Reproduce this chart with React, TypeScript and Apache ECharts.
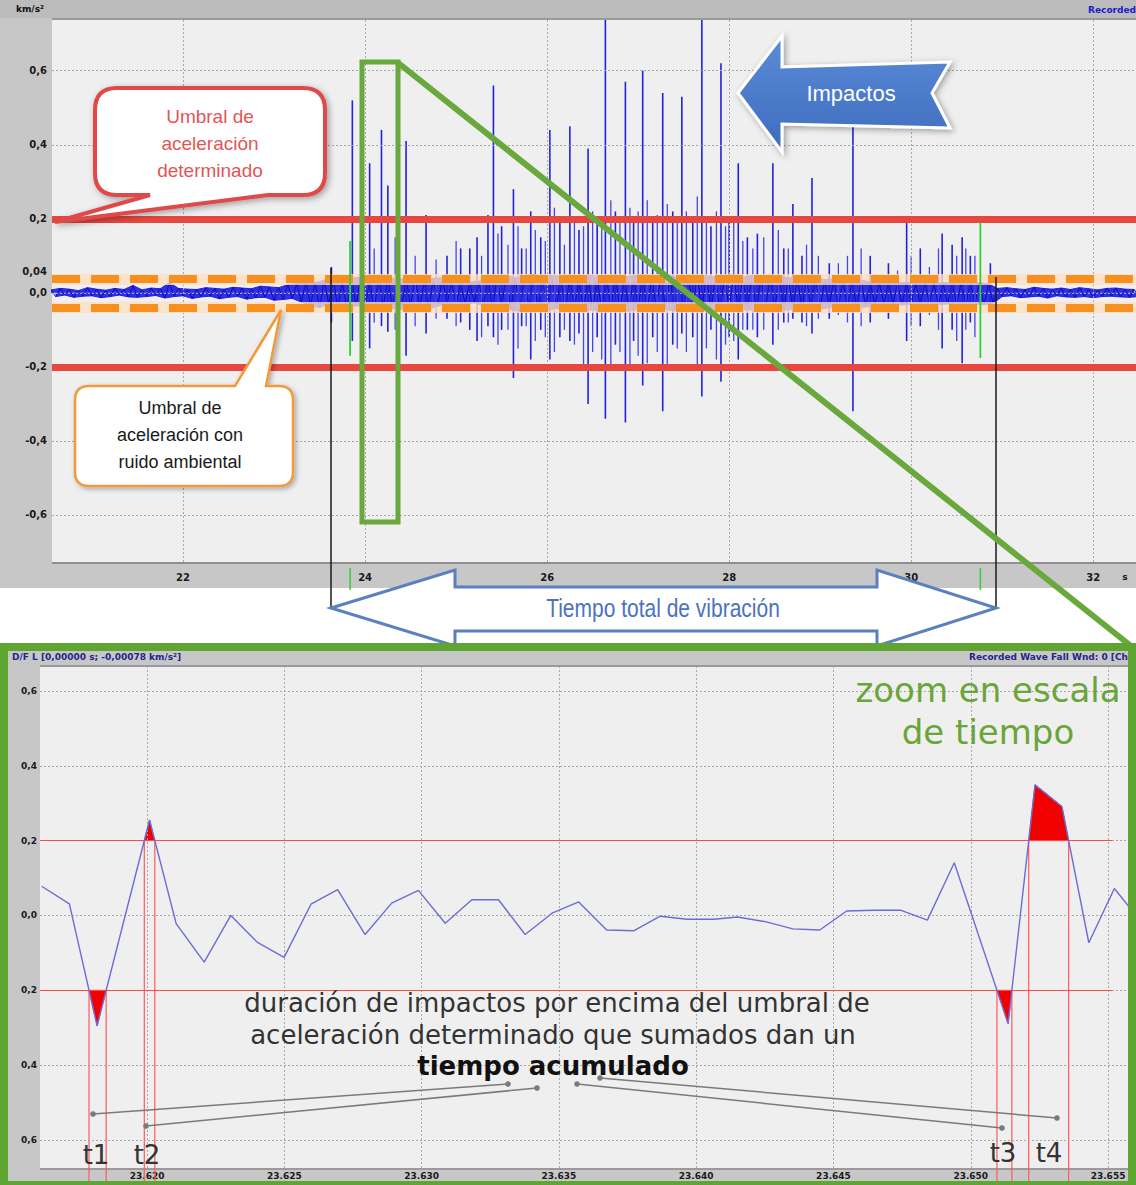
import React, { useEffect, useRef } from 'react';
import * as echarts from 'echarts';

// ---------- overview chart data ----------
const overviewXTicks = [22, 24, 26, 28, 30, 32];
const overviewYTicks = [-0.6, -0.4, -0.2, 0, 0.2, 0.4, 0.6];
const accelThreshold = 0.2;
const noiseBandUpper = 0.038;
const noiseBandLower = -0.04;

// ambient noise record, one sample every 0.05 s from 20.55 s
const noiseStart = 20.55;
const noiseStep = 0.05;
const noiseValues = [
  0.008, -0.010, 0.012, -0.006, 0.010, -0.012, 0.006, -0.009, 0.014, -0.008,
  0.010, -0.013, 0.007, -0.010, 0.012, -0.006, 0.009, -0.011, 0.020, -0.012,
  0.008, -0.010, 0.013, -0.007, 0.011, -0.014, 0.028, -0.010, 0.012, -0.008,
  0.010, -0.015, 0.009, -0.011, 0.014, -0.009, 0.012, -0.016, 0.010, -0.012,
  0.015, -0.010, 0.013, -0.017, 0.011, -0.013, 0.018, -0.012, 0.016, -0.020,
  0.014, -0.018, 0.022, -0.015, 0.025,
  -0.025, 0.030, -0.035, 0.028, -0.040, 0.034, -0.030,
  0.038, -0.042, 0.030, -0.045, 0.040, -0.035, 0.042, -0.040, 0.035, -0.046,
  0.040, -0.038, 0.044, -0.042, 0.036, -0.045, 0.040, -0.037, 0.043, -0.041,
  0.034, -0.044, 0.039, -0.036, 0.041,
  -0.030, 0.028, -0.032, 0.025, -0.030, 0.030, -0.027, 0.032, -0.035,
  0.042, -0.048, 0.045, -0.040, 0.048, -0.046, 0.040, -0.050, 0.046, -0.044,
  0.050, -0.047, 0.043, -0.049, 0.047, -0.042, 0.045, -0.050, 0.048, -0.045,
  0.041, -0.048, 0.049, -0.046, 0.044, -0.051, 0.046, -0.043, 0.048, -0.047,
  0.043, -0.050, 0.047, -0.044, 0.050, -0.048, 0.042, -0.046, 0.049, -0.045,
  0.046, -0.049, 0.044, -0.047, 0.048, -0.043, 0.045, -0.050, 0.047, -0.046,
  0.043, -0.048, 0.046, -0.044, 0.049, -0.047, 0.042, -0.045, 0.047, -0.049,
  0.044, -0.046, 0.048, -0.043, 0.045, -0.047, 0.040, -0.044, 0.042, -0.046,
  0.038, -0.042, 0.040, -0.044, 0.036, -0.040, 0.038, -0.041, 0.035, -0.039,
  0.037, -0.040, 0.034, -0.038,
  0.030, -0.034, 0.028, -0.032, 0.030, -0.030, 0.026, -0.033, 0.029, -0.031,
  0.027, -0.034, 0.030, -0.029, 0.025, -0.032, 0.028, -0.030, 0.026, -0.031,
  0.029, -0.033, 0.027, -0.030, 0.028, -0.032, 0.024, -0.028,
  0.012, -0.010, 0.014, -0.008, 0.011, -0.013, 0.009, -0.011, 0.015, -0.009,
  0.012, -0.014, 0.010, -0.008, 0.013, -0.011, 0.009, -0.012, 0.014, -0.010,
  0.011, -0.013, 0.008, -0.010, 0.012, -0.009, 0.013, -0.011, 0.010, -0.012,
  0.009, -0.010,
];

// main impacts: time (s), positive peak, negative peak (km/s²)
const impactTimes = [
  23.63, 23.86, 24.05, 24.18, 24.25, 24.45, 24.67, 24.9, 25.05, 25.15,
  25.23, 25.35, 25.41, 25.5, 25.63, 25.72, 25.82, 25.93, 26.03, 26.14,
  26.25, 26.35, 26.45, 26.55, 26.64, 26.75, 26.86, 26.95, 27.05, 27.16,
  27.27, 27.38, 27.48, 27.6, 27.7, 27.8, 27.91, 28.0, 28.1, 28.2,
  28.31, 28.48, 28.6, 28.7, 28.8, 28.91, 29.1, 29.36, 29.55, 29.75,
  29.95, 30.1, 30.34, 30.45, 30.56, 30.65, 30.87,
];
const impactPeaks = [
  0.07, 0.52, 0.35, 0.44, 0.29, 0.41, 0.21, 0.10, 0.12, 0.12,
  0.15, 0.21, 0.56, 0.18, 0.28, 0.12, 0.22, 0.15, 0.44, 0.20,
  0.45, 0.17, 0.39, 0.20, 0.74, 0.22, 0.57, 0.20, 0.60, 0.20,
  0.54, 0.22, 0.53, 0.20, 0.74, 0.18, 0.62, 0.20, 0.35, 0.15,
  0.16, 0.35, 0.12, 0.24, 0.10, 0.31, 0.08, 0.46, 0.10, 0.08,
  0.19, 0.12, 0.16, 0.13, 0.15, 0.10, 0.08,
];
const impactTroughs = [
  -0.08, -0.13, -0.15, -0.09, -0.105, -0.17, -0.11, -0.07, -0.08, -0.10,
  -0.13, -0.09, -0.12, -0.10, -0.23, -0.09, -0.18, -0.10, -0.18, -0.12,
  -0.13, -0.11, -0.30, -0.12, -0.34, -0.14, -0.35, -0.13, -0.25, -0.12,
  -0.32, -0.14, -0.11, -0.12, -0.28, -0.10, -0.24, -0.12, -0.18, -0.10,
  -0.12, -0.14, -0.08, -0.07, -0.08, -0.11, -0.07, -0.32, -0.08, -0.07,
  -0.13, -0.09, -0.15, -0.10, -0.19, -0.08, -0.03,
];
// secondary (smaller) impacts
const minorTimes = [
  24.1, 24.33, 24.55, 24.78, 25.0, 25.28, 25.46, 25.57, 25.68, 25.77,
  25.87, 25.98, 26.08, 26.19, 26.3, 26.4, 26.5, 26.6, 26.7, 26.8,
  26.91, 27.0, 27.1, 27.21, 27.32, 27.43, 27.53, 27.65, 27.75, 27.86,
  27.96, 28.05, 28.15, 28.26, 28.38, 28.54, 28.65, 28.85, 28.98, 29.2,
  29.3, 29.45, 29.85, 30.0, 30.2, 30.3, 30.5, 30.6, 30.7,
];
const minorPeaks = [
  0.12, 0.15, 0.10, 0.09, 0.14, 0.10, 0.16, 0.13, 0.18, 0.12,
  0.17, 0.14, 0.23, 0.13, 0.20, 0.18, 0.22, 0.20, 0.25, 0.20,
  0.23, 0.22, 0.25, 0.21, 0.24, 0.20, 0.22, 0.26, 0.20, 0.22,
  0.18, 0.20, 0.14, 0.12, 0.15, 0.17, 0.12, 0.13, 0.10, 0.08,
  0.10, 0.12, 0.06, 0.10, 0.07, 0.12, 0.10, 0.12, 0.10,
];
const minorTroughs = [
  -0.08, -0.10, -0.09, -0.07, -0.09, -0.12, -0.14, -0.10, -0.15, -0.09,
  -0.13, -0.12, -0.16, -0.10, -0.14, -0.20, -0.16, -0.18, -0.20, -0.16,
  -0.20, -0.17, -0.19, -0.16, -0.20, -0.15, -0.16, -0.20, -0.15, -0.18,
  -0.14, -0.13, -0.10, -0.10, -0.10, -0.10, -0.08, -0.09, -0.07, -0.06,
  -0.08, -0.09, -0.05, -0.09, -0.06, -0.10, -0.13, -0.10, -0.12,
];
// trigger markers (green)
const markerTimes = [23.835, 30.76];
const markerPeaks = [0.14, 0.19];
const markerTroughs = [-0.17, -0.176];

// ---------- zoomed chart data ----------
const zoomXTicks = [23.62, 23.625, 23.63, 23.635, 23.64, 23.645, 23.65, 23.655];
const zoomYTicks = [-0.6, -0.4, -0.2, 0, 0.2, 0.4, 0.6];
const zoomTimes = [
  23.61616, 23.61717, 23.61818, 23.62009, 23.62106, 23.62208, 23.62305, 23.62402,
  23.62499, 23.62597, 23.62694, 23.62794, 23.62891, 23.62988, 23.63086, 23.63183,
  23.6328, 23.63377, 23.63475, 23.63572, 23.63674, 23.63772, 23.63869, 23.63967,
  23.64065, 23.6415, 23.64255, 23.64352, 23.6445, 23.64548, 23.64646, 23.64744,
  23.64842, 23.6494, 23.65136, 23.65234, 23.65332, 23.6543, 23.65523, 23.65597,
];
const zoomValues = [
  0.078, 0.031, -0.295, 0.255, -0.022, -0.125, 0.0, -0.072,
  -0.112, 0.03, 0.069, -0.051, 0.033, 0.067, -0.021, 0.042,
  0.042, -0.051, 0.006, 0.036, -0.039, -0.041, -0.002, -0.01,
  -0.01, -0.004, -0.017, -0.036, -0.039, 0.012, 0.014, 0.014,
  -0.0125, 0.141, -0.289, 0.349, 0.291, -0.073, 0.072, 0.005,
];

// ---------- helpers ----------
const TOP_X_MIN = 20.56, TOP_X_MAX = 32.47, TOP_Y_MIN = -0.727, TOP_Y_MAX = 0.737;
const ZX_MIN = 23.6161, ZX_MAX = 23.6558, ZY_MIN = -0.675, ZY_MAX = 0.664;

function commaFmt(v: number) {
  const x = Math.abs(v) < 1e-9 ? 0 : v;
  return x.toFixed(1).replace('.', ',');
}

// excursions beyond the threshold -> polygons and crossing times
function excursions(ts: number[], vs: number[], th: number) {
  const polys: { sign: number; pts: number[][] }[] = [];
  const crossings: { t: number; level: number }[] = [];
  for (const sign of [1, -1]) {
    const lvl = sign * th;
    let cur: number[][] | null = null;
    for (let i = 0; i < ts.length; i++) {
      const above = sign * vs[i] > th;
      if (i > 0) {
        const prevAbove = sign * vs[i - 1] > th;
        if (above !== prevAbove) {
          const tc = ts[i - 1] + ((lvl - vs[i - 1]) / (vs[i] - vs[i - 1])) * (ts[i] - ts[i - 1]);
          crossings.push({ t: tc, level: lvl });
          if (above) {
            cur = [[tc, lvl]];
          } else if (cur) {
            cur.push([tc, lvl]);
            polys.push({ sign, pts: cur });
            cur = null;
          }
        }
      }
      if (above && cur) cur.push([ts[i], vs[i]]);
    }
  }
  return { polys, crossings };
}

const redCalloutPath =
  'M117 88 L303 88 Q325 88 325 110 L325 173 Q325 195 303 195 L268 195 L55 222 L150 195 L117 195 Q95 195 95 173 L95 110 Q95 88 117 88 Z';
const orangeCalloutPath =
  'M89 386 L235 386 L281 310 L266 386 L279 386 Q293 386 293 400 L293 472 Q293 486 279 486 L89 486 Q75 486 75 472 L75 400 Q75 386 89 386 Z';

echarts.graphic.registerShape('redCallout', echarts.graphic.extendPath(redCalloutPath, {}));
echarts.graphic.registerShape('orangeCallout', echarts.graphic.extendPath(orangeCalloutPath, {}));

function spikeRenderer(color: string, width: number) {
  return (params: any, api: any) => {
    const t = api.value(0);
    const a = api.coord([t, api.value(1)]);
    const b = api.coord([t, api.value(2)]);
    return {
      type: 'line', shape: { x1: a[0], y1: a[1], x2: b[0], y2: b[1] },
      style: { stroke: color, lineWidth: width },
    };
  };
}

export default function App() {
  const ref = useRef<HTMLDivElement>(null);

  useEffect(() => {
    if (!ref.current) return;
    const chart = echarts.init(ref.current, null, { renderer: 'svg' });

    const noiseData = noiseValues.map((v, i) => [noiseStart + i * noiseStep, v]);
    const noisePos = noiseData.filter((p) => p[1] > 0);
    const noiseNeg = noiseData.filter((p) => p[1] < 0);
    const impactData = impactTimes.map((t, i) => [t, impactPeaks[i], impactTroughs[i]]);
    const minorData = minorTimes.map((t, i) => [t, minorPeaks[i], minorTroughs[i]]);
    const markerData = markerTimes.map((t, i) => [t, markerPeaks[i], markerTroughs[i]]);
    const zoomData = zoomTimes.map((t, i) => [t, zoomValues[i]]);
    const { polys, crossings } = excursions(zoomTimes, zoomValues, accelThreshold);

    const gridLineStyle = { color: '#a8a8a8', type: [2, 2] as any, width: 1 };
    const axisLabelBase = { color: '#1a1a1a', fontWeight: 'bold' as const, fontFamily: 'DejaVu Sans' };
    const mlBase = { silent: true, symbol: 'none', precision: 6, label: { show: false } };

    const option: any = {
      animation: false,
      textStyle: { fontFamily: 'DejaVu Sans' },
      grid: [
        { left: 52, top: 20, width: 1084, height: 542 },
        { left: 40, top: 667, width: 1090, height: 501 },
      ],
      xAxis: [
        {
          type: 'value', gridIndex: 0, min: TOP_X_MIN, max: TOP_X_MAX,
          axisLine: { show: false }, axisTick: { show: false }, splitLine: { show: false },
          axisLabel: { ...axisLabelBase, fontSize: 10, margin: 10, customValues: overviewXTicks, formatter: (v: number) => String(Math.round(v)) },
        },
        {
          type: 'value', gridIndex: 1, min: ZX_MIN, max: ZX_MAX,
          axisLine: { show: false }, axisTick: { show: false }, splitLine: { show: false },
          axisLabel: { ...axisLabelBase, fontSize: 9, margin: 3, customValues: zoomXTicks, formatter: (v: number) => v.toFixed(3) },
        },
      ],
      yAxis: [
        {
          type: 'value', gridIndex: 0, min: TOP_Y_MIN, max: TOP_Y_MAX,
          axisLine: { show: false }, axisTick: { show: false }, splitLine: { show: false },
          axisLabel: { ...axisLabelBase, fontSize: 10, margin: 5, customValues: overviewYTicks, formatter: commaFmt },
        },
        {
          type: 'value', gridIndex: 1, min: ZY_MIN, max: ZY_MAX,
          axisLine: { show: false }, axisTick: { show: false }, splitLine: { show: false },
          axisLabel: { ...axisLabelBase, fontSize: 9, margin: 3, customValues: zoomYTicks, formatter: (v: number) => commaFmt(Math.abs(v)) },
        },
      ],
      series: [
        // grid lines, overview
        {
          type: 'line', xAxisIndex: 0, yAxisIndex: 0, data: [], silent: true, z: 1,
          markLine: {
            ...mlBase, lineStyle: gridLineStyle,
            data: [
              ...overviewXTicks.map((x) => ({ xAxis: x })),
              ...overviewYTicks.map((y) => ({ yAxis: y })),
            ],
          },
        },
        // grid lines, zoom
        {
          type: 'line', xAxisIndex: 1, yAxisIndex: 1, data: [], silent: true, z: 1,
          markLine: {
            ...mlBase, lineStyle: gridLineStyle,
            data: [
              ...zoomXTicks.map((x) => ({ xAxis: x })),
              ...zoomYTicks.map((y) => ({ yAxis: y })),
            ],
          },
        },
        // ambient noise threshold: soft underlay (under the noise)
        {
          type: 'line', xAxisIndex: 0, yAxisIndex: 0, data: [], z: 1, silent: true,
          markLine: {
            ...mlBase,
            lineStyle: { color: 'rgba(255,222,190,0.8)', width: 11, type: 'solid' },
            data: [{ yAxis: noiseBandUpper }, { yAxis: noiseBandLower }],
          },
        },
        // ambient noise envelope (filled)
        {
          type: 'line', xAxisIndex: 0, yAxisIndex: 0, data: noisePos, showSymbol: false, z: 2, silent: true,
          lineStyle: { color: '#1e1ee8', width: 1 }, areaStyle: { color: '#2424e4', opacity: 0.95 },
        },
        {
          type: 'line', xAxisIndex: 0, yAxisIndex: 0, data: noiseNeg, showSymbol: false, z: 2, silent: true,
          lineStyle: { color: '#1e1ee8', width: 1 }, areaStyle: { color: '#2424e4', opacity: 0.95 },
        },
        // ambient noise trace
        {
          type: 'line', xAxisIndex: 0, yAxisIndex: 0, data: noiseData, showSymbol: false, z: 3,
          lineStyle: { color: '#0c0cb8', width: 1 }, silent: true,
        },
        // secondary impacts
        {
          type: 'custom', xAxisIndex: 0, yAxisIndex: 0, data: minorData, z: 4, clip: true, silent: true,
          encode: { x: 0, y: [1, 2] },
          renderItem: spikeRenderer('#4444ee', 1.3),
        },
        // main impacts
        {
          type: 'custom', xAxisIndex: 0, yAxisIndex: 0, data: impactData, z: 4, clip: true, silent: true,
          encode: { x: 0, y: [1, 2] },
          renderItem: spikeRenderer('#2222d8', 1.6),
        },
        // trigger markers
        {
          type: 'custom', xAxisIndex: 0, yAxisIndex: 0, data: markerData, z: 5, clip: false, silent: true,
          encode: { x: 0, y: [1, 2] },
          renderItem: (params: any, api: any) => {
            const t = api.value(0);
            const a = api.coord([t, api.value(1)]);
            const b = api.coord([t, api.value(2)]);
            const base = api.coord([t, TOP_Y_MIN])[1];
            return {
              type: 'group',
              children: [
                { type: 'line', shape: { x1: a[0], y1: a[1], x2: b[0], y2: b[1] }, style: { stroke: '#2fd22f', lineWidth: 1.8 } },
                { type: 'line', shape: { x1: a[0], y1: base + 6, x2: a[0], y2: base + 28 }, style: { stroke: '#2fd22f', lineWidth: 1.5 } },
              ],
            };
          },
        },
        // ambient noise threshold (orange dashed)
        {
          type: 'line', xAxisIndex: 0, yAxisIndex: 0, data: [], z: 6, silent: true,
          markLine: {
            ...mlBase,
            lineStyle: { color: '#f7901e', width: 8, type: [28, 11] },
            data: [{ yAxis: noiseBandUpper }, { yAxis: noiseBandLower }],
          },
        },
        // acceleration threshold (red)
        {
          type: 'line', xAxisIndex: 0, yAxisIndex: 0, data: [], z: 7, silent: true,
          markLine: {
            ...mlBase,
            lineStyle: { color: '#e8473f', width: 7, type: 'solid' },
            data: [{ yAxis: accelThreshold }, { yAxis: -accelThreshold }],
          },
        },
        // zoom: threshold lines
        {
          type: 'line', xAxisIndex: 1, yAxisIndex: 1, data: [], z: 3, silent: true,
          markLine: {
            ...mlBase,
            lineStyle: { color: '#ff4a4a', width: 1.2, type: 'solid' },
            data: [
              [{ coord: [ZX_MIN, accelThreshold] }, { coord: [23.65515, accelThreshold] }],
              [{ coord: [ZX_MIN, -accelThreshold] }, { coord: [23.65515, -accelThreshold] }],
            ],
          },
        },
        // zoom: red filled excursions
        {
          type: 'custom', xAxisIndex: 1, yAxisIndex: 1, z: 4, silent: true,
          data: polys.map((p, i) => [p.pts[0][0], p.pts[0][1], i]),
          encode: { x: 0, y: 1 },
          renderItem: (params: any, api: any) => {
            const poly = polys[params.dataIndex];
            return {
              type: 'polygon',
              shape: { points: poly.pts.map((p) => api.coord(p)) },
              style: { fill: '#f00000', stroke: '#c00000', lineWidth: 0.6 },
            };
          },
        },
        // zoom: crossing verticals
        {
          type: 'custom', xAxisIndex: 1, yAxisIndex: 1, z: 4, clip: false, silent: true,
          data: crossings.map((c) => [c.t, c.level]),
          encode: { x: 0, y: 1 },
          renderItem: (params: any, api: any) => {
            const a = api.coord([api.value(0), api.value(1)]);
            const bottom = api.coord([api.value(0), ZY_MIN])[1] + 14;
            return {
              type: 'line', shape: { x1: a[0], y1: a[1], x2: a[0], y2: bottom },
              style: { stroke: '#ff5a5a', lineWidth: 1.2 },
            };
          },
        },
        // zoom: waveform
        {
          type: 'line', xAxisIndex: 1, yAxisIndex: 1, data: zoomData, showSymbol: false, z: 5, silent: true,
          lineStyle: { color: '#6c6cd6', width: 1.4 },
        },
      ],
      graphic: [
        // ---- overview frame ----
        { type: 'rect', z: -10, shape: { x: 0, y: 0, width: 1136, height: 588 }, style: { fill: '#c7c7c7' } },
        { type: 'rect', z: -9, shape: { x: 0, y: 0, width: 1136, height: 18 }, style: { fill: '#bcbcbc' } },
        { type: 'rect', z: -8, shape: { x: 52, y: 20, width: 1084, height: 542 }, style: { fill: '#efefef' } },
        { type: 'line', z: -8, shape: { x1: 52, y1: 19, x2: 1136, y2: 19 }, style: { stroke: '#9a9a9a', lineWidth: 2 } },
        { type: 'line', z: -8, shape: { x1: 52, y1: 563, x2: 1136, y2: 563 }, style: { stroke: '#8f8f8f', lineWidth: 2 } },
        { type: 'text', z: 20, x: 16, y: 9, style: { text: 'km/s²', font: 'bold 9px DejaVu Sans', fill: '#111', textVerticalAlign: 'middle' } },
        { type: 'text', z: 20, x: 1136, y: 10, style: { text: 'Recorded', font: 'bold 9px DejaVu Sans', fill: '#1a1acc', textAlign: 'right', textVerticalAlign: 'middle' } },
        { type: 'text', z: 20, x: 47, y: 271, style: { text: '0,04', font: 'bold 10px DejaVu Sans', fill: '#1a1a1a', textAlign: 'right', textVerticalAlign: 'middle' } },
        { type: 'text', z: 20, x: 1125, y: 577, style: { text: 's', font: 'bold 9px DejaVu Sans', fill: '#1a1a1a', textAlign: 'center', textVerticalAlign: 'middle' } },

        // ---- zoom frame ----
        { type: 'rect', z: -10, shape: { x: 4, y: 647, width: 1130, height: 538 }, style: { fill: '#c7c7c7' } },
        { type: 'rect', z: -8, shape: { x: 40, y: 667, width: 1090, height: 501 }, style: { fill: '#efefef' } },
        { type: 'line', z: -8, shape: { x1: 40, y1: 666, x2: 1130, y2: 666 }, style: { stroke: '#9a9a9a', lineWidth: 2 } },
        { type: 'line', z: -8, shape: { x1: 40, y1: 1169, x2: 1130, y2: 1169 }, style: { stroke: '#9a9a9a', lineWidth: 2 } },
        { type: 'text', z: 20, x: 12, y: 657, style: { text: 'D/F L [0,00000 s; -0,00078 km/s²]', font: 'bold 9px DejaVu Sans', fill: '#26268a', textVerticalAlign: 'middle' } },
        { type: 'text', z: 20, x: 1128, y: 657, style: { text: 'Recorded Wave Fall Wnd: 0 [Ch', font: 'bold 9px DejaVu Sans', fill: '#26268a', textAlign: 'right', textVerticalAlign: 'middle' } },

        // ---- overview annotations ----
        { type: 'line', z: 60, shape: { x1: 331, y1: 268, x2: 331, y2: 607 }, style: { stroke: '#1a1a1a', lineWidth: 1.5 } },
        { type: 'line', z: 60, shape: { x1: 996, y1: 277, x2: 996, y2: 607 }, style: { stroke: '#1a1a1a', lineWidth: 1.5 } },
        { type: 'rect', z: 62, shape: { x: 362, y: 62, width: 36, height: 460 }, style: { fill: 'none', stroke: '#69a83c', lineWidth: 5 } },
        { type: 'line', z: 62, shape: { x1: 397, y1: 62, x2: 1131, y2: 646 }, style: { stroke: '#69a83c', lineWidth: 6 } },
        {
          type: 'redCallout', z: 70, x: 0, y: 0,
          style: { fill: '#ffffff', stroke: '#e04848', lineWidth: 4, shadowBlur: 6, shadowColor: 'rgba(0,0,0,0.35)', shadowOffsetX: 2, shadowOffsetY: 2 },
        },
        { type: 'text', z: 71, x: 210, y: 116, style: { text: 'Umbral de', font: '19px Liberation Sans', fill: '#e25656', textAlign: 'center', textVerticalAlign: 'middle' } },
        { type: 'text', z: 71, x: 210, y: 143, style: { text: 'aceleración', font: '19px Liberation Sans', fill: '#e25656', textAlign: 'center', textVerticalAlign: 'middle' } },
        { type: 'text', z: 71, x: 210, y: 170, style: { text: 'determinado', font: '19px Liberation Sans', fill: '#e25656', textAlign: 'center', textVerticalAlign: 'middle' } },
        {
          type: 'orangeCallout', z: 70, x: 0, y: 0,
          style: { fill: '#ffffff', stroke: '#f29a3a', lineWidth: 2.5, shadowBlur: 5, shadowColor: 'rgba(0,0,0,0.3)', shadowOffsetX: 2, shadowOffsetY: 2 },
        },
        { type: 'text', z: 71, x: 180, y: 408, style: { text: 'Umbral de', font: '18px Liberation Sans', fill: '#1a1a1a', textAlign: 'center', textVerticalAlign: 'middle' } },
        { type: 'text', z: 71, x: 180, y: 435, style: { text: 'aceleración con', font: '18px Liberation Sans', fill: '#1a1a1a', textAlign: 'center', textVerticalAlign: 'middle' } },
        { type: 'text', z: 71, x: 180, y: 462, style: { text: 'ruido ambiental', font: '18px Liberation Sans', fill: '#1a1a1a', textAlign: 'center', textVerticalAlign: 'middle' } },
        {
          type: 'polygon', z: 70,
          shape: { points: [[738, 93], [782, 36], [782, 67], [950, 62], [932, 93], [950, 128], [782, 124], [782, 152]] },
          style: {
            fill: new echarts.graphic.LinearGradient(0, 0, 0, 1, [
              { offset: 0, color: '#5a8bd8' },
              { offset: 1, color: '#3e6cbd' },
            ]),
            stroke: '#ffffff', lineWidth: 3, shadowBlur: 6, shadowColor: 'rgba(0,0,0,0.35)', shadowOffsetX: 2, shadowOffsetY: 2,
          },
        },
        { type: 'text', z: 71, x: 851, y: 93, style: { text: 'Impactos', font: '22px Liberation Sans', fill: '#ffffff', textAlign: 'center', textVerticalAlign: 'middle' } },

        // ---- total vibration time arrow ----
        {
          type: 'polygon', z: 70,
          shape: { points: [[331, 608], [455, 570], [455, 587], [877, 587], [877, 570], [996, 608], [877, 646], [877, 631], [455, 631], [455, 646]] },
          style: { fill: '#ffffff', stroke: '#5b7fbf', lineWidth: 3 },
        },
        { type: 'text', z: 71, x: 663, y: 608, scaleX: 0.84, originX: 0, originY: 0, style: { text: 'Tiempo total de vibración', font: '25px Liberation Sans', fill: '#4c72c0', textAlign: 'center', textVerticalAlign: 'middle' } },

        // green frame of zoom
        { type: 'rect', z: 80, shape: { x: 4, y: 647, width: 1128, height: 538 }, style: { fill: 'none', stroke: '#5fa531', lineWidth: 8 } },

        // ---- zoom annotations ----
        { type: 'text', z: 71, x: 988, y: 690, style: { text: 'zoom en escala', font: '34px DejaVu Sans', fill: '#6aa53a', textAlign: 'center', textVerticalAlign: 'middle' } },
        { type: 'text', z: 71, x: 988, y: 732, style: { text: 'de tiempo', font: '34px DejaVu Sans', fill: '#6aa53a', textAlign: 'center', textVerticalAlign: 'middle' } },
        { type: 'text', z: 71, x: 557, y: 1003, style: { text: 'duración de impactos por encima del umbral de', font: '26px DejaVu Sans', fill: '#333333', textAlign: 'center', textVerticalAlign: 'middle' } },
        { type: 'text', z: 71, x: 553, y: 1035, style: { text: 'aceleración determinado que sumados dan un', font: '26px DejaVu Sans', fill: '#333333', textAlign: 'center', textVerticalAlign: 'middle' } },
        { type: 'text', z: 71, x: 553, y: 1066, style: { text: 'tiempo acumulado', font: 'bold 26px DejaVu Sans', fill: '#111111', textAlign: 'center', textVerticalAlign: 'middle' } },
        { type: 'line', z: 71, shape: { x1: 93, y1: 1114, x2: 508, y2: 1084 }, style: { stroke: '#7a7a7a', lineWidth: 1.5 } },
        { type: 'line', z: 71, shape: { x1: 146, y1: 1126, x2: 537, y2: 1088 }, style: { stroke: '#7a7a7a', lineWidth: 1.5 } },
        { type: 'line', z: 71, shape: { x1: 577, y1: 1084, x2: 1002, y2: 1128 }, style: { stroke: '#7a7a7a', lineWidth: 1.5 } },
        { type: 'line', z: 71, shape: { x1: 600, y1: 1078, x2: 1057, y2: 1118 }, style: { stroke: '#7a7a7a', lineWidth: 1.5 } },
        ...[[93, 1114], [508, 1084], [146, 1126], [537, 1088], [577, 1084], [1002, 1128], [600, 1078], [1057, 1118]].map((p) => ({
          type: 'circle', z: 72, shape: { cx: p[0], cy: p[1], r: 2.8 }, style: { fill: '#7a7a7a' },
        })),
        { type: 'text', z: 71, x: 96, y: 1155, style: { text: 't1', font: '26px DejaVu Sans', fill: '#333333', textAlign: 'center', textVerticalAlign: 'middle' } },
        { type: 'text', z: 71, x: 147, y: 1155, style: { text: 't2', font: '26px DejaVu Sans', fill: '#333333', textAlign: 'center', textVerticalAlign: 'middle' } },
        { type: 'text', z: 71, x: 1003, y: 1153, style: { text: 't3', font: '26px DejaVu Sans', fill: '#333333', textAlign: 'center', textVerticalAlign: 'middle' } },
        { type: 'text', z: 71, x: 1049, y: 1153, style: { text: 't4', font: '26px DejaVu Sans', fill: '#333333', textAlign: 'center', textVerticalAlign: 'middle' } },
      ],
    };

    chart.setOption(option);
    return () => chart.dispose();
  }, []);

  return (
    <div style={{ position: 'absolute', left: 0, top: 0, width: 1136, height: 1185, background: '#ffffff', overflow: 'hidden' }}>
      <div ref={ref} style={{ width: 1136, height: 1185 }} />
    </div>
  );
}
